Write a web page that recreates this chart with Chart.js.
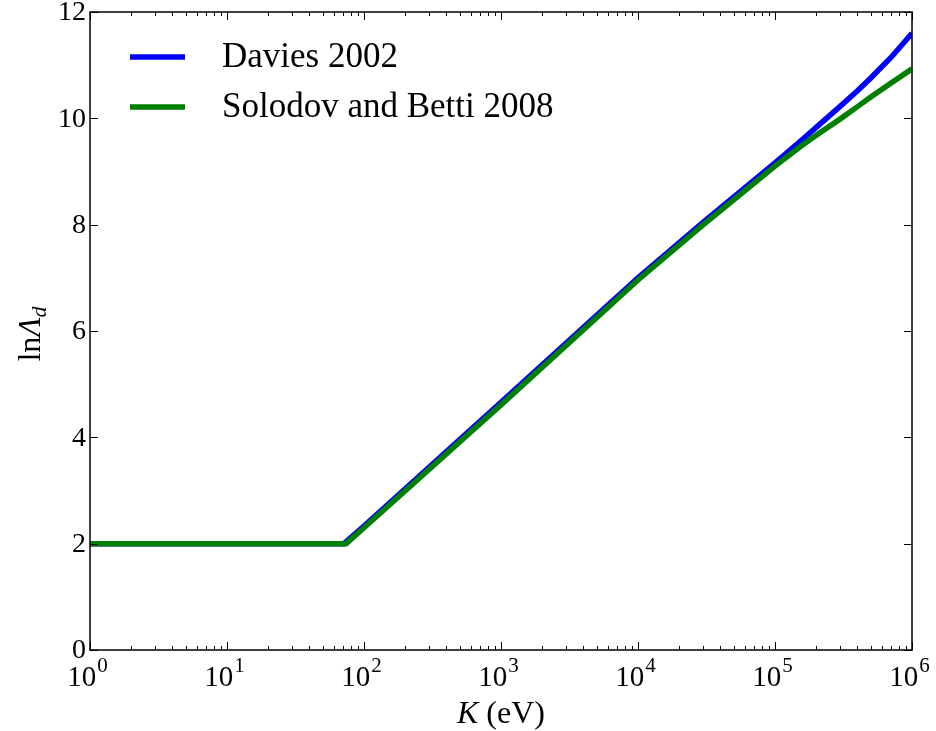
<!DOCTYPE html>
<html>
  <head>
    <title>Coulomb logarithm</title>
    <script src="https://cdn.jsdelivr.net/npm/chart.js"></script>
    <style>
      body {
        margin: 0;
        background: #ffffff;
      }
      canvas {
        display: block;
      }
    </style>
  </head>

  <body>
    <canvas id="myChart" width="936" height="731"></canvas>

    <script>
      // values
      const daviesK = [1, 10, 71.5, 100, 1000, 10000, 30000, 100000, 150000, 200000, 300000, 400000, 500000, 700000, 1000000];
      const daviesLn = [2, 2, 2, 2.33, 4.66, 7.0, 8.05, 9.16, 9.55, 9.83, 10.23, 10.52, 10.76, 11.14, 11.6];
      const solodovK = [1, 10, 74, 100, 1000, 10000, 30000, 100000, 150000, 200000, 300000, 400000, 500000, 700000, 1000000];
      const solodovLn = [2, 2, 2, 2.3, 4.61, 6.96, 8.0, 9.1, 9.45, 9.68, 9.99, 10.22, 10.4, 10.66, 10.93];
      const seriesLabels = ["Davies 2002", "Solodov and Betti 2008"];
      const seriesColors = ["#0000ff", "#008000"];
      const xMajorExp = [0, 1, 2, 3, 4, 5, 6];
      const yTicks = [0, 2, 4, 6, 8, 10, 12];

      const serif = "'Liberation Serif', 'Times New Roman', serif";

      function toPoints(xs, ys) {
        return xs.map((x, i) => ({ x: x, y: ys[i] }));
      }

      const data = {
        datasets: [
          {
            label: seriesLabels[0],
            data: toPoints(daviesK, daviesLn),
            borderColor: seriesColors[0],
            borderWidth: 5.5,
            pointRadius: 0,
            order: 2,
            clip: 0,
          },
          {
            label: seriesLabels[1],
            data: toPoints(solodovK, solodovLn),
            borderColor: seriesColors[1],
            borderWidth: 5.5,
            pointRadius: 0,
            order: 1,
            clip: 0,
          },
        ],
      };

      // matplotlib-like frame, inward ticks, labels and legend
      const axesPlugin = {
        id: "axesPlugin",
        afterDraw(chart) {
          const ctx = chart.ctx;
          const a = chart.chartArea;
          const xs = chart.scales.x;
          const ys = chart.scales.y;
          ctx.save();
          ctx.strokeStyle = "#000";
          ctx.fillStyle = "#000";
          ctx.lineWidth = 1.5;
          ctx.strokeRect(a.left, a.top, a.right - a.left, a.bottom - a.top);

          // x ticks (major + minor), bottom and top
          ctx.lineWidth = 1;
          for (const e of xMajorExp) {
            for (let m = 1; m <= 9; m++) {
              const v = m * Math.pow(10, e);
              if (v > 1000000) break;
              const px = Math.round(xs.getPixelForValue(v)) + 0.5;
              const len = m === 1 ? 8 : 4;
              ctx.beginPath();
              ctx.moveTo(px, a.bottom);
              ctx.lineTo(px, a.bottom - len);
              ctx.moveTo(px, a.top);
              ctx.lineTo(px, a.top + len);
              ctx.stroke();
            }
          }
          // y ticks, left and right
          for (const t of yTicks) {
            const py = Math.round(ys.getPixelForValue(t)) + 0.5;
            ctx.beginPath();
            ctx.moveTo(a.left, py);
            ctx.lineTo(a.left + 8, py);
            ctx.moveTo(a.right, py);
            ctx.lineTo(a.right - 8, py);
            ctx.stroke();
          }

          // y tick labels
          ctx.font = "28px " + serif;
          ctx.textAlign = "right";
          ctx.textBaseline = "middle";
          for (const t of yTicks) {
            ctx.fillText(String(t), a.left - 4, ys.getPixelForValue(t) + 1);
          }

          // x tick labels 10^n
          ctx.textAlign = "left";
          ctx.textBaseline = "alphabetic";
          for (const e of xMajorExp) {
            const px = xs.getPixelForValue(Math.pow(10, e));
            ctx.font = "29px " + serif;
            const w1 = ctx.measureText("10").width;
            ctx.font = "21px " + serif;
            const w2 = ctx.measureText(String(e)).width;
            const x0 = px - (w1 + w2) / 2 - 3;
            ctx.font = "29px " + serif;
            ctx.fillText("10", x0, a.bottom + 36);
            ctx.font = "21px " + serif;
            ctx.fillText(String(e), x0 + w1 + 1, a.bottom + 22);
          }

          // x axis title: K (eV)
          ctx.font = "italic 32px " + serif;
          const wK = ctx.measureText("K").width;
          ctx.font = "32px " + serif;
          const wRest = ctx.measureText(" (eV)").width;
          const xc = (a.left + a.right) / 2;
          let xt = xc - (wK + wRest) / 2;
          ctx.font = "italic 32px " + serif;
          ctx.fillText("K", xt, 723);
          ctx.font = "32px " + serif;
          ctx.fillText(" (eV)", xt + wK, 723);

          // y axis title: ln Λ_d (rotated)
          ctx.save();
          ctx.translate(40, (a.top + a.bottom) / 2 + 3);
          ctx.rotate(-Math.PI / 2);
          ctx.font = "32px " + serif;
          const wLn = ctx.measureText("ln").width;
          ctx.font = "italic 32px " + serif;
          const wL = ctx.measureText("Λ").width;
          ctx.font = "italic 22px " + serif;
          const wd = ctx.measureText("d").width;
          let yt = -(wLn + wL + wd) / 2;
          ctx.font = "32px " + serif;
          ctx.fillText("ln", yt, 0);
          ctx.font = "italic 32px " + serif;
          ctx.fillText("Λ", yt + wLn, 0);
          ctx.font = "italic 22px " + serif;
          ctx.fillText("d", yt + wLn + wL, 6);
          ctx.restore();

          // legend
          ctx.textBaseline = "middle";
          ctx.font = "35px " + serif;
          chart.data.datasets.forEach((ds, i) => {
            const ly = 57 + i * 50;
            ctx.strokeStyle = ds.borderColor;
            ctx.lineWidth = 5.5;
            ctx.beginPath();
            ctx.moveTo(130, ly);
            ctx.lineTo(185, ly);
            ctx.stroke();
            ctx.fillStyle = "#000";
            ctx.fillText(ds.label, 222, ly + 1);
          });
          ctx.restore();
        },
      };

      const config = {
        type: "line",
        data: data,
        options: {
          responsive: false,
          animation: false,
          layout: {
            padding: { left: 90, right: 24, top: 12, bottom: 81 },
          },
          plugins: {
            legend: { display: false },
            tooltip: { enabled: false },
          },
          scales: {
            x: {
              type: "logarithmic",
              min: 1,
              max: 1000000,
              display: false,
            },
            y: {
              type: "linear",
              min: 0,
              max: 12,
              display: false,
            },
          },
        },
        plugins: [axesPlugin],
      };

      const myChart = new Chart(document.getElementById("myChart"), config);
    </script>
  </body>
</html>
